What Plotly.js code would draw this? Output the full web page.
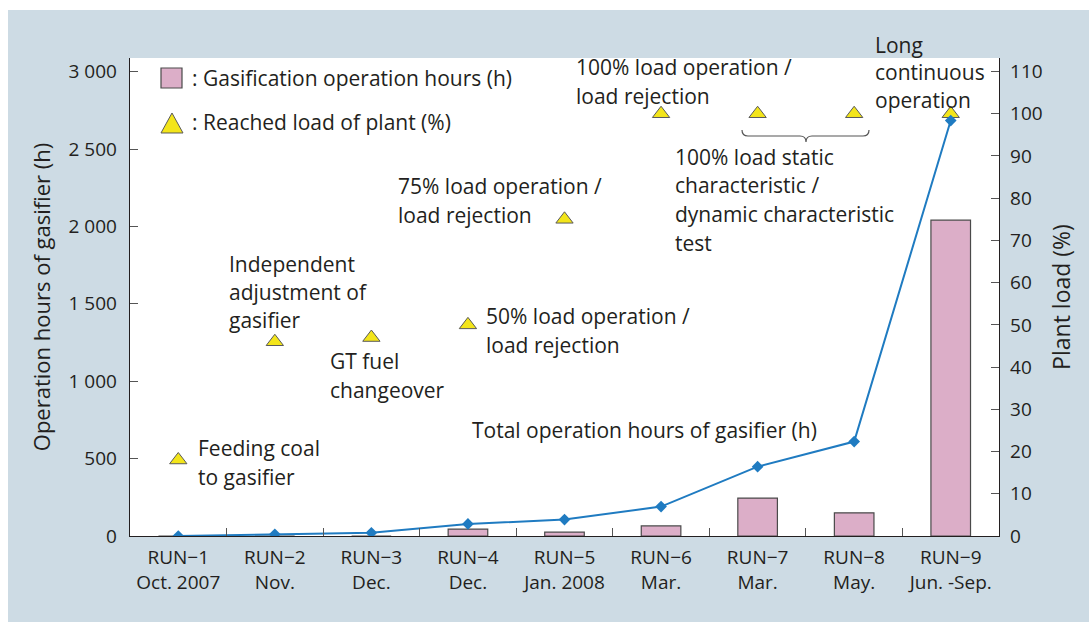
<!DOCTYPE html>
<html><head><meta charset="utf-8">
<script src="https://cdn.plot.ly/plotly-3.0.1.min.js"></script>
<style>html,body{margin:0;padding:0;background:#fff;} #chart{width:1089px;height:622px;}</style>
</head><body><div id="chart"></div>
<script>
// ---- data ----
const runs = ['RUN\u22121','RUN\u22122','RUN\u22123','RUN\u22124','RUN\u22125','RUN\u22126','RUN\u22127','RUN\u22128','RUN\u22129'];
const periods = ['Oct. 2007','Nov.','Dec.','Dec.','Jan. 2008','Mar.','Mar.','May.','Jun. -Sep.'];
const gasificationHours = [0, 0, 0, 45, 25, 65, 245, 150, 2040];
const totalHours = [0, 11, 21, 78, 106, 190, 448, 610, 2684];
const reachedLoad = [18, 46, 47, 50, 75, 100, 100, 100, 100];
const hourTickVals = [0, 500, 1000, 1500, 2000, 2500, 3000];
const hourTickText = ['0', '500', '1 000', '1 500', '2 000', '2 500', '3 000'];
const loadTickVals = [0, 10, 20, 30, 40, 50, 60, 70, 80, 90, 100, 110];

const categories = runs.map((r, i) => r + '<br>' + periods[i]);

// ---- styling ----
const TXT = '#231f20';
const FONT = 'Open Sans, Noto Sans, sans-serif';
const BG = '#cddbe4';
const PINK = '#dcaec8';
const YELLOW = '#f3e51a';
const BLUE = '#1f7bc1';
const L = 130, T = 58, W = 869, H = 478;
const px = x => (x - L) / W;
const py = y => (T + H - y) / H;

const traces = [
  {
    type: 'scatter', mode: 'markers', x: categories, y: reachedLoad, xaxis: 'x', yaxis: 'y',
    name: 'Reached load of plant (%)', showlegend: false, hoverinfo: 'x+y',
    marker: {symbol: 'triangle-up', size: 15, color: YELLOW, line: {color: '#5a5a5a', width: 1}}
  },
  {
    type: 'bar', x: categories, y: gasificationHours, xaxis: 'x', yaxis: 'y2', width: 0.41,
    name: 'Gasification operation hours (h)', showlegend: false,
    marker: {color: PINK, line: {color: '#4a4a4a', width: 1.2}}
  },
  {
    type: 'scatter', mode: 'lines+markers', x: categories, y: totalHours, xaxis: 'x', yaxis: 'y2',
    name: 'Total operation hours of gasifier (h)', showlegend: false,
    line: {color: BLUE, width: 2},
    marker: {symbol: 'diamond', size: 9, color: BLUE}
  }
];

function addBlock(arr, x, ys, lines, size) {
  lines.forEach((t, i) => arr.push({
    xref: 'paper', yref: 'paper', x: px(x), y: py(ys[i]), xanchor: 'left', yanchor: 'middle', align: 'left',
    text: t, showarrow: false, font: {family: FONT, size: size || 21, color: TXT}
  }));
}
const annotations = [];
addBlock(annotations, 190, [78], [': Gasification operation hours (h)']);
addBlock(annotations, 190, [122], [': Reached load of plant (%)']);
addBlock(annotations, 196, [448, 477], ['Feeding coal', 'to gasifier']);
addBlock(annotations, 227, [264, 292, 320], ['Independent', 'adjustment of', 'gasifier']);
addBlock(annotations, 328, [361, 390], ['GT fuel', 'changeover']);
addBlock(annotations, 484, [316, 345], ['50% load operation /', 'load rejection']);
addBlock(annotations, 396, [186, 215], ['75% load operation /', 'load rejection']);
addBlock(annotations, 574, [67, 96], ['100% load operation /', 'load rejection']);
addBlock(annotations, 673, [157, 185, 214, 243], ['100% load static', 'characteristic /', 'dynamic characteristic', 'test']);
addBlock(annotations, 873, [72], ['Long<br>continuous<br>operation']);
addBlock(annotations, 470, [430], ['Total operation hours of gasifier (h)']);

function pathFrom(pts) {
  return pts.map(p => p[0] + ' ' + px(p[1]).toFixed(5) + ',' + py(p[2]).toFixed(5)).join(' ');
}
const shapes = [
  // white outer border strips
  {type: 'rect', xref: 'paper', yref: 'paper', layer: 'below', x0: px(0), x1: px(8), y0: py(622), y1: py(0), fillcolor: '#ffffff', line: {width: 0}},
  {type: 'rect', xref: 'paper', yref: 'paper', layer: 'below', x0: px(0), x1: px(1089), y0: py(10), y1: py(0), fillcolor: '#ffffff', line: {width: 0}},
  // legend symbols
  {type: 'rect', xref: 'paper', yref: 'paper', x0: px(161), x1: px(182), y0: py(88), y1: py(68), fillcolor: PINK, line: {color: '#4a4a4a', width: 1.2}},
  {type: 'path', xref: 'paper', yref: 'paper', path: pathFrom([['M',161,133],['L',183,133],['L',172,113]]) + ' Z', fillcolor: YELLOW, line: {color: '#5a5a5a', width: 1}},
  // brace
  {type: 'path', xref: 'paper', yref: 'paper', line: {color: '#555555', width: 1.2},
   path: pathFrom([['M',742,130],['Q',742,136],['',748,136],['L',800,136],['Q',806,136],['',806,142],['Q',806,136],['',812,136],['L',863,136],['Q',869,136],['',869,130]])}
];

const layout = {
  width: 1089, height: 622,
  margin: {l: L, r: 1089 - L - W, t: T, b: 622 - T - H, pad: 0},
  paper_bgcolor: BG, plot_bgcolor: '#ffffff',
  showlegend: false,
  font: {family: FONT, color: TXT, size: 18},
  xaxis: {
    type: 'category', range: [-0.5, 8.5], fixedrange: true,
    showline: true, linecolor: TXT, linewidth: 1.3, mirror: false,
    ticks: 'inside', tickson: 'boundaries', ticklen: 8, tickcolor: '#555555', tickwidth: 1,
    tickfont: {family: FONT, size: 19, color: TXT}, ticklabelstandoff: 4,
    showgrid: false, zeroline: false
  },
  yaxis: {
    side: 'right', range: [0, 113.2], tickmode: 'array', tickvals: loadTickVals,
    showline: true, linecolor: TXT, linewidth: 1.3,
    ticks: 'inside', ticklen: 8, tickcolor: '#555555', tickwidth: 1,
    tickfont: {family: FONT, size: 19, color: TXT}, ticklabelstandoff: 6,
    showgrid: false, zeroline: false,
    title: {text: 'Plant load (%)', font: {family: FONT, size: 23, color: TXT}, standoff: 12}
  },
  yaxis2: {
    overlaying: 'y', side: 'left', anchor: 'x', range: [0, 3088],
    tickmode: 'array', tickvals: hourTickVals, ticktext: hourTickText,
    showline: true, linecolor: TXT, linewidth: 1.3,
    ticks: 'inside', ticklen: 8, tickcolor: '#555555', tickwidth: 1,
    tickfont: {family: FONT, size: 19, color: TXT}, ticklabelstandoff: 8,
    showgrid: false, zeroline: false,
    title: {text: 'Operation hours of gasifier (h)', font: {family: FONT, size: 22, color: TXT}, standoff: 11}
  },
  annotations: annotations,
  shapes: shapes
};

Plotly.newPlot('chart', traces, layout, {displayModeBar: false, staticPlot: true});
</script>
</body></html>
